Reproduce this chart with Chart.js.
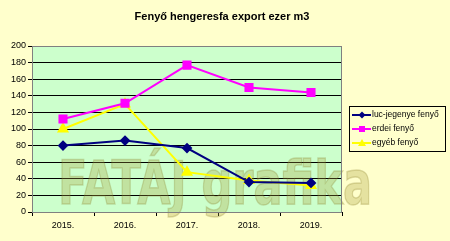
<!DOCTYPE html>
<html>
<head>
<meta charset="utf-8">
<script src="https://cdn.jsdelivr.net/npm/chart.js@4.4.1/dist/chart.umd.min.js"></script>
<style>
  html, body { margin: 0; padding: 0; background: #FFFFCC; }
  #wrap { width: 450px; height: 241px; position: relative; }
</style>
</head>
<body>
<div id="wrap"><canvas id="chart"></canvas></div>
<script>
// data
const years = ['2015.', '2016.', '2017.', '2018.', '2019.'];
const lucJegenye = [80, 86, 77, 36, 35];
const erdei = [112, 131, 177, 150, 144];
const egyeb = [100, 130, 48, 38, 32];
const seriesNames = ['luc-jegenye fenyő', 'erdei fenyő', 'egyéb fenyő'];
const titleText = 'Fenyő hengeresfa export ezer m3';
const watermarkText = 'FATÁJ grafika';

// backgrounds, title, watermark and the boxed legend
const decor = {
  id: 'decor',
  beforeDraw(chart) {
    const ctx = chart.ctx, a = chart.chartArea;
    ctx.save();
    ctx.fillStyle = '#FFFFCC';
    ctx.fillRect(0, 0, chart.width, chart.height);
    ctx.fillStyle = '#CCFFCC';
    ctx.fillRect(a.left, a.top, a.right - a.left, a.bottom - a.top);
    ctx.fillStyle = '#000';
    ctx.font = 'bold 11px "Liberation Sans", Arial, sans-serif';
    ctx.textAlign = 'center';
    ctx.textBaseline = 'middle';
    ctx.fillText(titleText, 222, 17);
    ctx.restore();
  },
  beforeDatasetsDraw(chart) {
    const ctx = chart.ctx, a = chart.chartArea;
    ctx.save();
    ctx.font = 'bold 60px "DejaVu Sans Condensed", "Liberation Sans Narrow", sans-serif';
    const w = ctx.measureText(watermarkText).width;
    ctx.translate(58, 204);
    ctx.scale(314 / w, 1);
    ctx.textBaseline = 'alphabetic';
    ctx.fillStyle = 'rgba(170,160,60,0.3)';
    ctx.fillText(watermarkText, 0, 0);
    ctx.lineWidth = 1.5;
    ctx.strokeStyle = 'rgba(130,120,30,0.25)';
    ctx.strokeText(watermarkText, 0, 0);
    ctx.restore();
    // plot border
    ctx.save();
    ctx.strokeStyle = '#808080';
    ctx.lineWidth = 1;
    ctx.strokeRect(a.left + 0.5, a.top + 0.5, a.right - a.left - 1, a.bottom - a.top);
    ctx.restore();
  },
  afterDraw(chart) {
    const ctx = chart.ctx;
    const x = 349, y = 106, w = 96, h = 45;
    ctx.save();
    ctx.fillStyle = '#FFFFCC';
    ctx.fillRect(x, y, w, h);
    ctx.strokeStyle = '#000';
    ctx.lineWidth = 1;
    ctx.strokeRect(x + 0.5, y + 0.5, w, h);
    ctx.font = '8.5px "Liberation Sans", Arial, sans-serif';
    ctx.textBaseline = 'middle';
    chart.data.datasets.forEach((ds, i) => {
      const cy = y + 9 + i * 14;
      ctx.strokeStyle = ds.borderColor;
      ctx.lineWidth = 2;
      ctx.beginPath();
      ctx.moveTo(x + 3, cy);
      ctx.lineTo(x + 22, cy);
      ctx.stroke();
      ctx.fillStyle = ds.pointBackgroundColor;
      ctx.beginPath();
      if (ds.pointStyle === 'rect') {
        ctx.fillRect(x + 10, cy - 3, 6, 6);
      } else if (ds.pointStyle === 'rectRot') {
        ctx.moveTo(x + 13, cy - 3.5); ctx.lineTo(x + 16.5, cy);
        ctx.lineTo(x + 13, cy + 3.5); ctx.lineTo(x + 9.5, cy);
        ctx.closePath(); ctx.fill();
      } else {
        ctx.moveTo(x + 13, cy - 4); ctx.lineTo(x + 17, cy + 3);
        ctx.lineTo(x + 9, cy + 3); ctx.closePath(); ctx.fill();
      }
      ctx.fillStyle = '#000';
      ctx.fillText(ds.label, x + 23, cy);
    });
    ctx.restore();
  }
};

new Chart(document.getElementById('chart'), {
  type: 'line',
  data: {
    labels: years,
    datasets: [
      { label: seriesNames[0], data: lucJegenye, borderColor: '#000080', pointBackgroundColor: '#000080',
        pointBorderColor: '#000080', pointStyle: 'rectRot', pointRadius: 4, borderWidth: 2 },
      { label: seriesNames[1], data: erdei, borderColor: '#FF00FF', pointBackgroundColor: '#FF00FF',
        pointBorderColor: '#FF00FF', pointStyle: 'rect', pointRadius: 5, borderWidth: 2 },
      { label: seriesNames[2], data: egyeb, borderColor: '#FFFF00', pointBackgroundColor: '#FFFF00',
        pointBorderColor: '#FFFF00', pointStyle: 'triangle', pointRadius: 5, borderWidth: 2 }
    ]
  },
  options: {
    responsive: true,
    maintainAspectRatio: false,
    animation: false,
    layout: { padding: { top: 46, right: 108, left: 0, bottom: 0 } },
    plugins: { legend: { display: false }, title: { display: false }, tooltip: { enabled: false } },
    elements: { line: { tension: 0 } },
    scales: {
      x: {
        offset: true,
        afterFit(s) { s.height = 29; },
        grid: { offset: true, drawOnChartArea: false, drawTicks: true, tickLength: 4, color: '#000' },
        border: { color: '#000' },
        ticks: { color: '#000', padding: 4, font: { family: '"Liberation Sans", Arial', size: 9 }, maxRotation: 0 }
      },
      y: {
        min: 0, max: 200,
        afterFit(s) { s.width = 32; },
        grid: { color: '#000', tickLength: 4, drawTicks: true },
        border: { color: '#000' },
        ticks: { stepSize: 20, color: '#000', padding: 2, font: { family: '"Liberation Sans", Arial', size: 9 } }
      }
    }
  },
  plugins: [decor]
});
</script>
</body>
</html>
